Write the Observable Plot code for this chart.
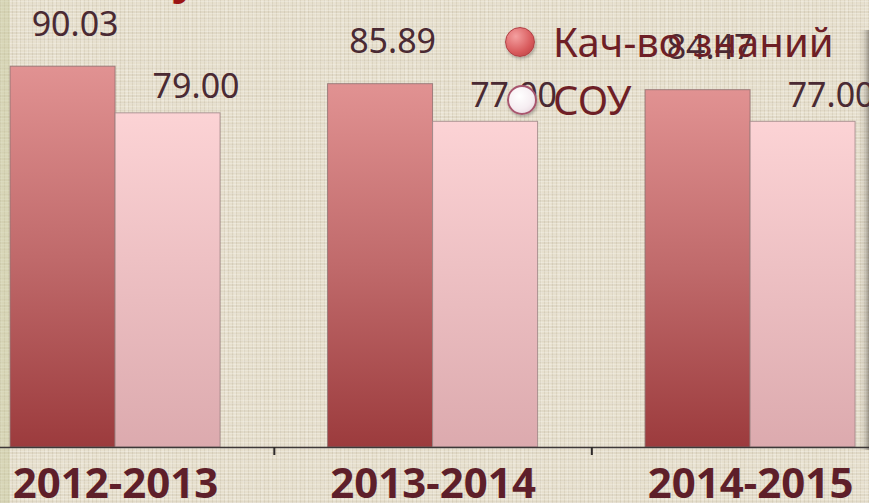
<!DOCTYPE html>
<html>
<head>
<meta charset="utf-8">
<script src="https://cdn.jsdelivr.net/npm/d3@7"></script>
<script src="https://cdn.jsdelivr.net/npm/@observablehq/plot@0.6"></script>
<style>
  html, body { margin: 0; padding: 0; }
  body {
    width: 869px; height: 503px; overflow: hidden; position: relative;
    background:
      repeating-linear-gradient(0deg, rgba(255,255,255,0.22) 0 1px, transparent 1px 3px),
      repeating-linear-gradient(90deg, rgba(120,105,75,0.11) 0 1px, transparent 1px 4px),
      repeating-linear-gradient(0deg, rgba(120,105,75,0.06) 0 2px, transparent 2px 7px),
      repeating-linear-gradient(90deg, rgba(255,255,255,0.12) 0 2px, transparent 2px 9px),
      #e7e0ce;
    font-family: "Noto Sans", sans-serif;
  }
  #leftStrip { position: absolute; left: 0; top: 0; width: 10px; height: 503px; background: rgba(190,195,140,0.35); }
  #rightEdge { position: absolute; right: 0; top: 30px; width: 11px; height: 420px;
    background: linear-gradient(to right, rgba(0,0,0,0) 0, rgba(70,65,60,0.10) 6px, rgba(70,65,60,0.45) 11px); }
  #chart { position: absolute; left: 0; top: 0; }
  #titleFrag { position: absolute; left: 172px; top: -48px; font-size: 46px; font-weight: bold; color: #9b1515; font-family: "Noto Sans", sans-serif; line-height: 1; }
  #legend { position: absolute; left: 505px; top: 27px; }
  .lg-row { position: absolute; left: 0; display: flex; align-items: center; white-space: nowrap; }
  .lg-dot { width: 30px; height: 30px; border-radius: 50%; box-sizing: border-box; box-shadow: 1px 2px 3px rgba(0,0,0,0.25); }
  .lg-text { margin-left: 18px; font-size: 40px; line-height: 30px; color: #6e1f26; font-family: "Noto Sans", sans-serif; }
</style>
</head>
<body>
<svg width="0" height="0" style="position:absolute">
  <defs>
    <linearGradient id="gDark" x1="0" y1="0" x2="0" y2="1">
      <stop offset="0" stop-color="#e19292"/>
      <stop offset="0.5" stop-color="#c06a6b"/>
      <stop offset="1" stop-color="#9c3b3d"/>
    </linearGradient>
    <linearGradient id="gLight" x1="0" y1="0" x2="0" y2="1">
      <stop offset="0" stop-color="#fcd3d5"/>
      <stop offset="1" stop-color="#dcaaae"/>
    </linearGradient>
  </defs>
</svg>
<div id="leftStrip"></div>
<div id="rightEdge"></div>
<div id="titleFrag">у</div>
<div id="chart"></div>
<div id="legend"></div>
<script>
// ---- data ----
const years = ["2012-2013", "2013-2014", "2014-2015"];
const seriesNames = ["Кач-во знаний", "СОУ"];
const quality = [90.03, 85.89, 84.47];
const sou = [79.00, 77.00, 77.00];

// ---- layout ----
const W = 869, H = 503;
const paddingInner = 0.3386, paddingOuter = 0.0378, align = 0.42;
const step = W / (years.length - paddingInner + 2 * paddingOuter);
const bw = step * (1 - paddingInner);

const rows = years.flatMap((y, i) => [
  {year: y, series: seriesNames[0], value: quality[i]},
  {year: y, series: seriesNames[1], value: sou[i]}
]);
const s0 = rows.filter(d => d.series === seriesNames[0]);
const s1 = rows.filter(d => d.series === seriesNames[1]);

const labelFont = {fontFamily: "Noto Sans", fontSize: 34, fill: "#4a2a33"};

const plot = Plot.plot({
  width: W,
  height: H,
  marginLeft: 0,
  marginRight: 0,
  marginTop: 24,
  marginBottom: 56,
  style: {background: "transparent", overflow: "visible"},
  x: {domain: years, paddingInner, paddingOuter, align, round: false, label: null},
  y: {domain: [0, 100], axis: null},
  marks: [
    Plot.barY(s0, {x: "year", y: "value", fill: "url(#gDark)", stroke: "#8c6e6e", strokeOpacity: 0.8, strokeWidth: 1, insetRight: bw / 2}),
    Plot.barY(s1, {x: "year", y: "value", fill: "url(#gLight)", stroke: "#9a8282", strokeOpacity: 0.8, strokeWidth: 1, insetLeft: bw / 2}),
    Plot.ruleY([0], {stroke: "#3d3838", strokeWidth: 1.5}),
    Plot.axisX({ticks: years.slice(0, -1), tickSize: 8, tickFormat: () => "", dx: step / 2, stroke: "#2e2a2a", strokeWidth: 2, label: null}),
    Plot.axisX({tickSize: 0, tickPadding: 21, fontSize: 42, fontWeight: "bold", fontFamily: "Noto Sans", fill: "#5e1f2a", label: null}),
    Plot.text(s0, {x: "year", y: "value", text: d => d.value.toFixed(2), dx: -bw / 4 + 12, dy: -31, lineAnchor: "bottom", ...labelFont}),
    Plot.text(s1, {x: "year", y: "value", text: d => d.value.toFixed(2), dx: bw / 4 + 28, dy: -15, lineAnchor: "bottom", ...labelFont})
  ]
});
document.getElementById("chart").appendChild(plot);

// ---- legend ----
const legendStyles = [
  {bg: "radial-gradient(circle at 35% 30%, #f4a0a0, #d85a5c 60%, #b53a3e)", border: "1px solid #b04045", top: 0, left: 0},
  {bg: "radial-gradient(circle at 40% 35%, #ffffff, #f6eef2 55%, #e2cfd8)", border: "2.5px solid #a8566e", top: 58, left: 2}
];
const legend = document.getElementById("legend");
seriesNames.forEach((name, i) => {
  const row = document.createElement("div");
  row.className = "lg-row";
  row.style.top = legendStyles[i].top + "px";
  row.style.left = legendStyles[i].left + "px";
  const dot = document.createElement("div");
  dot.className = "lg-dot";
  dot.style.background = legendStyles[i].bg;
  dot.style.border = legendStyles[i].border;
  const txt = document.createElement("span");
  txt.className = "lg-text";
  txt.textContent = name;
  txt.style.marginLeft = (18 - legendStyles[i].left) + "px";
  row.appendChild(dot);
  row.appendChild(txt);
  legend.appendChild(row);
});
</script>
</body>
</html>
